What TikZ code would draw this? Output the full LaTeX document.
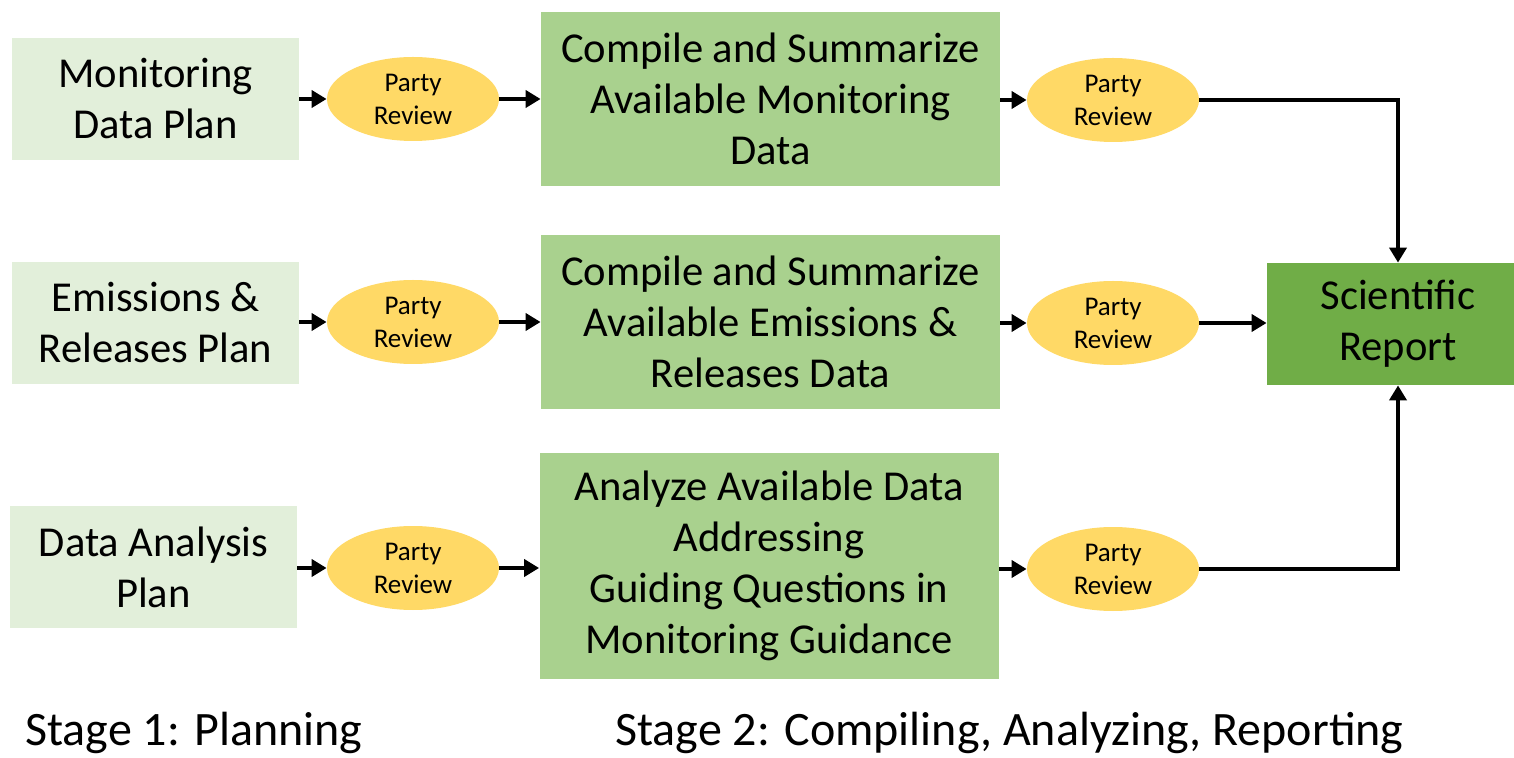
\documentclass[tikz,border=0pt]{standalone}
\usepackage{fontspec}
\setmainfont{Carlito}
\usetikzlibrary{arrows.meta,shapes.geometric}

\definecolor{planfill}{HTML}{E2EFDA}
\definecolor{taskfill}{HTML}{A9D18E}
\definecolor{reviewfill}{HTML}{FFD966}
\definecolor{reportfill}{HTML}{70AD47}

\begin{document}
\begin{tikzpicture}
  [
    x=0.5pt,
    y=-0.5pt,
    plan/.style={
      fill=planfill,
      minimum width=143.5pt,
      minimum height=61pt,
      inner sep=0pt,
      align=center,
      font=\fontsize{21.3}{25.5}\selectfont
    },
    task/.style={
      plan,
      fill=taskfill,
      minimum width=229.5pt,
      minimum height=87pt
    },
    review/.style={
      ellipse,
      fill=reviewfill,
      minimum width=86pt,
      minimum height=42pt,
      inner sep=0pt,
      align=center,
      font=\fontsize{13.5}{16.5}\selectfont
    },
    report/.style={
      plan,
      fill=reportfill,
      minimum width=131pt
    },
    flow/.style={
      line width=2.4pt,
      -{Triangle[length=7.5pt,width=8.5pt]}
    },
    stage/.style={
      anchor=base west,
      inner sep=0pt,
      font=\fontsize{24}{29}\selectfont
    }
  ]

  \useasboundingbox (0,0) rectangle (1514,758);

  % stage 1
  \node [plan] (plan1) at (155.5,99) {Monitoring\\Data Plan};
  \node [plan] (plan2) at (155.5,323) {Emissions \&\\Releases Plan};
  \node [plan] (plan3) at (153.5,567) {Data Analysis\\Plan};

  \node [review] (rev1) at (413,99) {Party\\Review};
  \node [review] (rev2) at (413,322) {Party\\Review};
  \node [review] (rev3) at (413,568) {Party\\Review};

  % stage 2
  \node [task] (task1) at (770.5,99) {Compile and Summarize\\Available Monitoring\\Data};
  \node [task] (task2) at (770.5,322) {Compile and Summarize\\Available Emissions \&\\Releases Data};
  \node [task,minimum height=113pt] (task3) at (769,566)
    {Analyze Available Data\\Addressing\\Guiding Questions in\\Monitoring Guidance};

  \node [review] (out1) at (1113,100) {Party\\Review};
  \node [review] (out2) at (1113,323) {Party\\Review};
  \node [review] (out3) at (1113,569) {Party\\Review};

  \node [report] (report) at (1398,324) {Scientific\\Report};

  \foreach \n in {1,2,3} {
      \draw [flow] (plan\n.east |- rev\n) -- (rev\n.west);
      \draw [flow] (rev\n.east) -- (rev\n.east -| task\n.west);
      \draw [flow] (task\n.east |- out\n) -- (out\n.west);
  }

  \draw [flow] (out1.east) -| (report.north);
  \draw [flow] (out2.east) -- (out2.east -| report.west);
  \draw [flow] (out3.east) -| (report.south);

  \node [stage] (stage1) at (25,745) {Stage 1: Planning};
  \node [stage] (stage2) at (615,745) {Stage 2: Compiling, Analyzing, Reporting};

\end{tikzpicture}
\end{document}
